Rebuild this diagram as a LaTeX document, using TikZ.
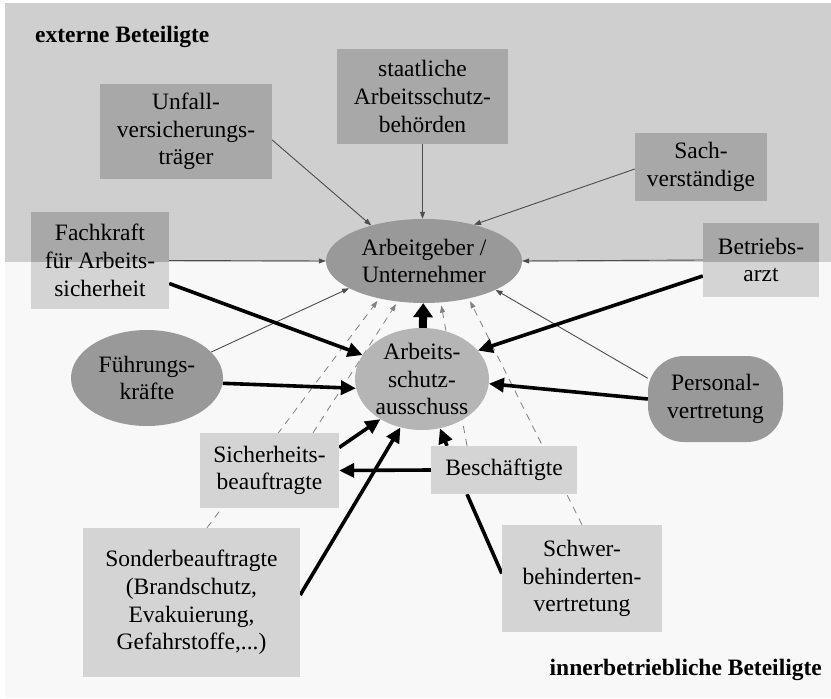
\documentclass[tikz,border=0pt]{standalone}
\usepackage{fontspec}
\setmainfont{Liberation Serif}
\usetikzlibrary{arrows.meta,shapes.geometric}
\definecolor{topbg}{gray}{0.81}
\definecolor{botbg}{gray}{0.973}
\definecolor{boxdark}{gray}{0.66}
\definecolor{boxlight}{gray}{0.83}
\definecolor{elldark}{gray}{0.60}
\definecolor{ellmid}{gray}{0.71}
\definecolor{thinc}{gray}{0.30}
\definecolor{dashc}{gray}{0.50}
\pgfdeclarelayer{bg}
\pgfdeclarelayer{edges}
\pgfdeclarelayer{fills}
\pgfsetlayers{bg,edges,fills,main}
\begin{document}
\begin{tikzpicture}[x=1pt,y=-1pt,
  lbl/.style={font=\fontsize{23.5}{27.7}\selectfont, align=center, inner sep=0pt},
  darkbox/.style={lbl, rectangle, fill=boxdark},
  lightbox/.style={lbl, rectangle, fill=boxlight},
  splitbox/.style={lbl, rectangle},
  darkell/.style={lbl, ellipse, fill=elldark, inner sep=-10pt},
  midell/.style={lbl, ellipse, fill=ellmid, inner sep=-10pt},
  title/.style={font=\fontsize{23.5}{27.7}\selectfont\bfseries, inner sep=0pt},
  thinarr/.style={draw=thinc, line width=0.9pt, -{Triangle[length=7pt,width=5pt]}},
  dasharr/.style={draw=dashc, line width=0.8pt, dash pattern=on 7pt off 6pt, -{Triangle[length=7pt,width=5pt]}, shorten >=3pt},
  thickarr/.style={draw=black, line width=3.6pt, -{Triangle[length=15pt,width=14pt]}},
  bigarr/.style={draw=black, line width=8pt, -{Triangle[length=14pt,width=19pt]}},
  thickline/.style={draw=black, line width=3.6pt}
]
\useasboundingbox (0,0) rectangle (831,699);
\begin{pgfonlayer}{bg}
  \fill[white] (0,0) rectangle (831,699);
  \fill[topbg] (5,3) rectangle (831,262);
  \fill[botbg] (5,262) rectangle (831,698);
\end{pgfonlayer}
\coordinate (split) at (0,262);

% titles
\node[title, anchor=base west] (t1) at (35,42) {externe Beteiligte};
\node[title, anchor=base east] (t2) at (822,675) {innerbetriebliche Beteiligte};

% external boxes
\node[darkbox, minimum width=172pt, minimum height=95pt] (uv) at (186,131.5) {Unfall-\\versicherungs-\\träger};
\node[darkbox, minimum width=171pt, minimum height=95pt] (st) at (422.5,96.5) {staatliche\\Arbeitsschutz-\\behörden};
\node[darkbox, minimum width=132pt, minimum height=68pt] (sv) at (701,167) {Sach-\\verständige};
\node[splitbox, minimum width=116pt, minimum height=74pt] (ba) at (761,260) {Betriebs-\\arzt};
\node[splitbox, minimum width=138pt, minimum height=97pt] (fk) at (100,260.5) {Fachkraft\\für Arbeits-\\sicherheit};

% central ellipses
\node[darkell, minimum width=196pt, minimum height=84pt] (ag) at (424,261) {Arbeitgeber /\\Unternehmer};
\node[midell, minimum width=134pt, minimum height=102pt] (as) at (422,379) {Arbeits-\\schutz-\\ausschuss};
\node[darkell, minimum width=152pt, minimum height=96pt] (fu) at (147,378) {Führungs-\\kräfte};
\node[lbl, rectangle, rounded corners=36pt, fill=elldark, minimum width=135pt, minimum height=86pt] (pv) at (715.5,399) {Personal-\\vertretung};

% internal boxes
\node[lightbox, minimum width=139pt, minimum height=75pt] (sich) at (269.5,470.5) {Sicherheits-\\beauftragte};
\node[lightbox, minimum width=146pt, minimum height=48pt] (be) at (504,470) {Beschäftigte};
\node[lightbox, minimum width=217pt, minimum height=149pt] (sb) at (191.5,602.5) {Sonderbeauftragte\\(Brandschutz,\\Evakuierung,\\Gefahrstoffe,...)};
\node[lightbox, minimum width=160pt, minimum height=107pt] (sw) at (582,578.5) {Schwer-\\behinderten-\\vertretung};

% two-tone fills of the boxes crossing the border
\begin{pgfonlayer}{fills}
  \fill[boxlight] (fk.south west) rectangle (fk.north east);
  \fill[boxdark] (fk.north west) rectangle (fk.east |- split);
  \fill[boxlight] (ba.south west) rectangle (ba.north east);
  \fill[boxdark] (ba.north west) rectangle (ba.east |- split);
\end{pgfonlayer}

\begin{pgfonlayer}{edges}
  % thin arrows to Arbeitgeber
  \draw[thinarr] ([yshift=-8.5pt]uv.east) -- (ag.146);
  \draw[thinarr] (st.south) -- (st.south |- ag.north);
  \draw[thinarr] ([yshift=-2pt]sv.west) -- (ag.36);
  \draw[thinarr] (ba.west) -- (ag.east);
  \draw[thinarr] (fk.east) -- (ag.west);
  \draw[thinarr] (fu.22) -- (ag.200);
  \draw[thinarr] (pv.163) -- (ag.338);
  % dashed arrows to Arbeitgeber
  \draw[dasharr] ([xshift=15.5pt]sb.north) -- (ag.220);
  \draw[dasharr] ([xshift=43.5pt]sich.north) -- (ag.237);
  \draw[dasharr] ([xshift=-37pt]be.north) -- (ag.292);
  \draw[dasharr] (sw.north) -- (ag.320);
  % thick arrows
  \draw[thickarr] ([yshift=-23pt]fk.east) -- (as.158);
  \draw[thickarr] (fu.-4) -- (as.188);
  \draw[thickarr] ([yshift=-16pt]ba.west) -- (as.27);
  \draw[thickarr] (pv.west) -- (as.356);
  \draw[bigarr] (as) -- (ag);
  \draw[thickarr] ([yshift=23pt]sich.east) -- (as.224);
  \draw[thickarr] ([yshift=7.5pt]sb.east) -- (as.246);
  \draw[thickarr] ([xshift=-57pt]be.north) -- (as.290);
  \draw[thickarr] (be.west) -- (sich.east);
  \draw[thickline] ([yshift=5pt]sw.west) -- ([xshift=-37pt]be.south);
\end{pgfonlayer}
\end{tikzpicture}
\end{document}
